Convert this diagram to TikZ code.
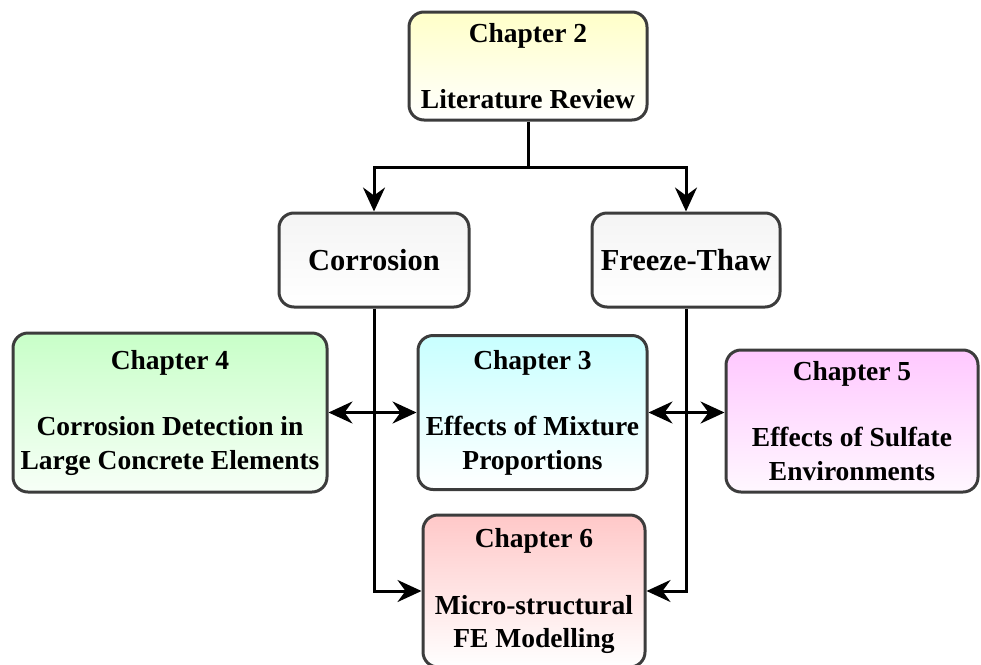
\documentclass[tikz,border=0pt]{standalone}
\usepackage{fontspec}
\setmainfont{Liberation Serif}
\usetikzlibrary{arrows.meta}

\definecolor{edgegray}{RGB}{60,60,60}
\definecolor{topyellow}{RGB}{255,255,200}
\definecolor{topgreen}{RGB}{200,255,200}
\definecolor{topcyan}{RGB}{200,255,255}
\definecolor{toppink}{RGB}{255,200,255}
\definecolor{topred}{RGB}{255,200,200}
\definecolor{topgray}{RGB}{244,244,244}

\begin{document}
\begin{tikzpicture}[x=1pt, y=-1pt]
    \tikzstyle{box} = [rectangle, rounded corners=15pt, draw=edgegray, line width=3pt, inner sep=0pt, align=center, text=black]
    \tikzstyle{chapter} = [box, font=\fontsize{27.5}{33.5}\selectfont\bfseries]
    \tikzstyle{topic} = [box, top color=topgray, bottom color=white, font=\fontsize{30.5}{36}\selectfont\bfseries]
    \tikzstyle{arrow} = [-{Stealth[length=24pt, width=22pt, inset=8pt]}, line width=3pt]
    \tikzstyle{dblarrow} = [{Stealth[length=24pt, width=22pt, inset=8pt]}-{Stealth[length=24pt, width=22pt, inset=8pt]}, line width=3pt]

    \useasboundingbox (0,0) rectangle (981,664);

    % Review
    \node [chapter, top color=topyellow, bottom color=white, minimum width=238pt, minimum height=108pt] (ch2) at (528,66) {Chapter 2\\[33pt]Literature Review};

    % Deterioration topics
    \node [topic, minimum width=190pt, minimum height=94pt] (corrosion) at (374,260) {Corrosion};
    \node [topic, minimum width=188pt, minimum height=94pt] (freeze) at (686,260) {Freeze-Thaw};

    % Study chapters
    \node [chapter, top color=topgreen, bottom color=green!3, minimum width=314pt, minimum height=159pt] (ch4) at (170,412.5) {Chapter 4\\[33pt]Corrosion Detection in\\Large Concrete Elements};
    \node [chapter, top color=topcyan, bottom color=white, minimum width=229pt, minimum height=154pt] (ch3) at (532.5,412.5) {Chapter 3\\[33pt]Effects of Mixture\\Proportions};
    \node [chapter, top color=toppink, bottom color=magenta!3, minimum width=252pt, minimum height=142pt] (ch5) at (852,421) {Chapter 5\\[33pt]Effects of Sulfate\\Environments};
    \node [chapter, top color=topred, bottom color=white, minimum width=222pt, minimum height=152pt] (ch6) at (534,591) {Chapter 6\\[33pt]Micro-structural\\FE Modelling};

    % Connections
    \coordinate (split) at (528,167);
    \draw [line width=3pt] (ch2) -- (split);
    \draw [arrow] (split) -| (corrosion);
    \draw [arrow] (split) -| (freeze);

    \draw [arrow] (corrosion) |- (ch6);
    \draw [arrow] (freeze) |- (ch6);

    \draw [dblarrow] (ch4) -- (ch3);
    \draw [dblarrow] (ch3.east) -- (ch3.east -| ch5.west);
\end{tikzpicture}
\end{document}
